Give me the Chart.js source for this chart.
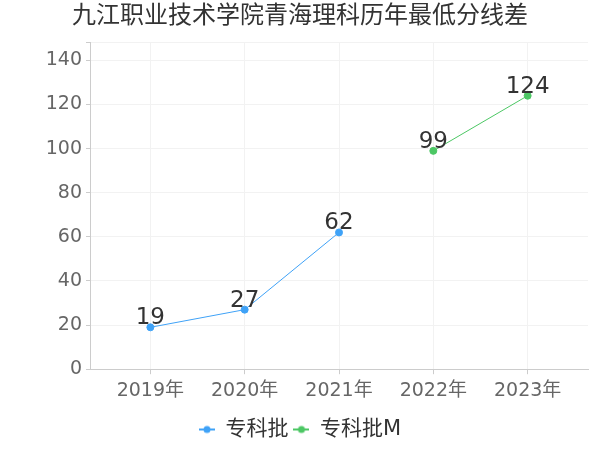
<!DOCTYPE html>
<html>
<head>
<meta charset="utf-8">
<script src="https://cdn.jsdelivr.net/npm/chart.js@4"></script>
<style>
  html, body { margin: 0; padding: 0; background: #fff; }
  #wrap { width: 600px; height: 450px; }
</style>
</head>
<body>
<div id="wrap"><canvas id="myChart"></canvas></div>
<script>
var years = ['2019年', '2020年', '2021年', '2022年', '2023年'];
var zhuanke = [19, 27, 62, null, null];
var zhuankeM = [null, null, null, 99, 124];
var yTicks = [0, 20, 40, 60, 80, 100, 120, 140];

var FONT = '"DejaVu Sans", "Noto Sans CJK SC", sans-serif';

function toPoints(arr) {
	var out = [];
	arr.forEach(function (v, i) {
		if (v !== null) out.push({ x: i, y: v });
	});
	return out;
}

// legend marker: short line with a dot
function legendIcon(color) {
	var c = document.createElement('canvas');
	c.width = 16; c.height = 10;
	var g = c.getContext('2d');
	g.strokeStyle = color;
	g.lineWidth = 2;
	g.beginPath(); g.moveTo(0, 5); g.lineTo(16, 5); g.stroke();
	g.fillStyle = color;
	g.beginPath(); g.arc(8, 5, 3.5, 0, Math.PI * 2); g.fill();
	return c;
}

var valueLabels = {
	id: 'valueLabels',
	afterDatasetsDraw: function (chart) {
		var ctx = chart.ctx;
		ctx.save();
		ctx.font = '23px ' + FONT;
		ctx.fillStyle = '#333';
		ctx.textAlign = 'center';
		ctx.textBaseline = 'alphabetic';
		chart.data.datasets.forEach(function (ds, i) {
			chart.getDatasetMeta(i).data.forEach(function (pt, j) {
				ctx.fillText(ds.data[j].y, pt.x, pt.y - 3);
			});
		});
		ctx.restore();
	}
};

var ctx = document.getElementById('myChart');
var myChart = new Chart(ctx, {
	type: 'line',
	data: {
		datasets: [
			{
				label: '专科批',
				data: toPoints(zhuanke),
				borderColor: '#3fa2f7',
				backgroundColor: '#3fa2f7',
				borderWidth: 1,
				pointRadius: 3.5,
				pointStyle: 'circle',
				legendIcon: legendIcon('#3fa2f7'),
			},
			{
				label: '专科批M',
				data: toPoints(zhuankeM),
				borderColor: '#4cc764',
				backgroundColor: '#4cc764',
				borderWidth: 1,
				pointRadius: 3.5,
				pointStyle: 'circle',
				legendIcon: legendIcon('#4cc764'),
			},
		],
	},
	plugins: [valueLabels],
	options: {
		responsive: true,
		maintainAspectRatio: false,
		animation: false,
		layout: {
			padding: { left: 12, right: 12, top: 0, bottom: 0 },
		},
		plugins: {
			title: {
				display: true,
				text: '九江职业技术学院青海理科历年最低分线差',
				color: '#333',
				font: { family: FONT, size: 24, weight: 'normal' },
				padding: { top: 2, bottom: 12 },
			},
			legend: {
				position: 'bottom',
				labels: {
					usePointStyle: true,
					pointStyleWidth: 16,
					color: '#333',
					font: { family: FONT, size: 21 },
					padding: 5,
					generateLabels: function (chart) {
						return chart.data.datasets.map(function (ds, i) {
							return {
								text: ds.label,
								fontColor: '#333',
								pointStyle: ds.legendIcon,
								datasetIndex: i,
								lineWidth: 0,
							};
						});
					},
				},
			},
			tooltip: { enabled: false },
		},
		scales: {
			x: {
				type: 'linear',
				min: -0.64,
				max: 4.64,
				afterBuildTicks: function (axis) {
					axis.ticks = years.map(function (y, i) { return { value: i }; });
				},
				afterFit: function (axis) {
					axis.height += 7;
				},
				ticks: {
					color: '#666',
					font: { family: FONT, size: 19 },
					padding: 5,
					callback: function (v) { return years[v]; },
				},
				grid: {
					color: '#f2f2f2',
					tickColor: '#ccc',
					tickLength: 5,
				},
				border: { color: '#ccc' },
			},
			y: {
				min: 0,
				max: 148,
				afterBuildTicks: function (axis) {
					axis.ticks = yTicks.map(function (v) { return { value: v }; }).concat([{ value: 148 }]);
				},
				afterFit: function (axis) {
					axis.width = 78;
				},
				ticks: {
					color: '#666',
					font: { family: FONT, size: 19 },
					padding: 4,
					callback: function (v) { return yTicks.indexOf(v) >= 0 ? v : ''; },
				},
				grid: {
					color: '#f2f2f2',
					tickColor: '#ccc',
					tickLength: 4,
				},
				border: { color: '#ccc' },
			},
		},
	},
});
</script>
</body>
</html>
